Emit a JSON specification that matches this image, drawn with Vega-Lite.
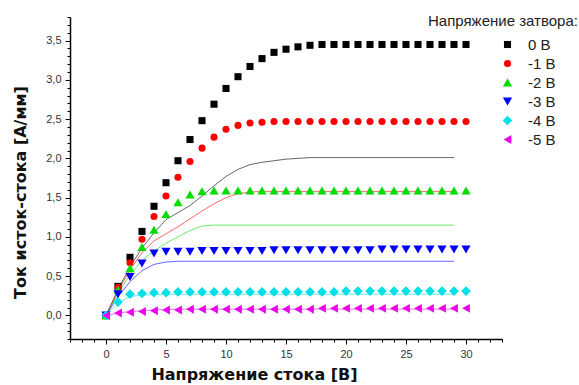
{
  "$schema": "https://vega.github.io/schema/vega-lite/v6.json",
  "width": 432,
  "height": 322,
  "autosize": {"type": "none"},
  "padding": {"left": 70, "top": 17, "right": 77, "bottom": 46},
  "background": "white",
  "config": {
    "view": {"stroke": null},
    "font": "Liberation Sans",
    "axis": {"grid": false, "domainColor": "#000", "domainWidth": 1.5, "tickColor": "#000", "labelColor": "#333", "labelFont": "Liberation Sans", "titleFont": "DejaVu Sans", "titleColor": "#111"},
    "legend": {"orient": "none", "legendX": 358, "legendY": -3, "padding": 0, "titleFontSize": 15, "titleFontWeight": "normal", "titleColor": "#222", "titlePadding": 8, "labelFontSize": 15, "labelColor": "#222", "symbolOffset": 72, "labelOffset": 13, "rowPadding": 3, "symbolStrokeWidth": 0}
  },
  "datasets": {
    "meas": [
      {"g":"0 В","x":0,"y":0},{"g":"0 В","x":1,"y":0.37},{"g":"0 В","x":2,"y":0.74},{"g":"0 В","x":3,"y":1.07},{"g":"0 В","x":4,"y":1.39},{"g":"0 В","x":5,"y":1.69},{"g":"0 В","x":6,"y":1.97},{"g":"0 В","x":7,"y":2.24},{"g":"0 В","x":8,"y":2.48},{"g":"0 В","x":9,"y":2.69},{"g":"0 В","x":10,"y":2.89},{"g":"0 В","x":11,"y":3.04},{"g":"0 В","x":12,"y":3.17},{"g":"0 В","x":13,"y":3.27},{"g":"0 В","x":14,"y":3.35},{"g":"0 В","x":15,"y":3.39},{"g":"0 В","x":16,"y":3.42},{"g":"0 В","x":17,"y":3.44},{"g":"0 В","x":18,"y":3.45},{"g":"0 В","x":19,"y":3.45},{"g":"0 В","x":20,"y":3.45},{"g":"0 В","x":21,"y":3.45},{"g":"0 В","x":22,"y":3.45},{"g":"0 В","x":23,"y":3.45},{"g":"0 В","x":24,"y":3.45},{"g":"0 В","x":25,"y":3.45},{"g":"0 В","x":26,"y":3.45},{"g":"0 В","x":27,"y":3.45},{"g":"0 В","x":28,"y":3.45},{"g":"0 В","x":29,"y":3.45},{"g":"0 В","x":30,"y":3.45},
      {"g":"-1 В","x":0,"y":0},{"g":"-1 В","x":1,"y":0.36},{"g":"-1 В","x":2,"y":0.67},{"g":"-1 В","x":3,"y":0.97},{"g":"-1 В","x":4,"y":1.26},{"g":"-1 В","x":5,"y":1.52},{"g":"-1 В","x":6,"y":1.76},{"g":"-1 В","x":7,"y":1.96},{"g":"-1 В","x":8,"y":2.13},{"g":"-1 В","x":9,"y":2.27},{"g":"-1 В","x":10,"y":2.37},{"g":"-1 В","x":11,"y":2.42},{"g":"-1 В","x":12,"y":2.45},{"g":"-1 В","x":13,"y":2.46},{"g":"-1 В","x":14,"y":2.47},{"g":"-1 В","x":15,"y":2.47},{"g":"-1 В","x":16,"y":2.47},{"g":"-1 В","x":17,"y":2.47},{"g":"-1 В","x":18,"y":2.47},{"g":"-1 В","x":19,"y":2.47},{"g":"-1 В","x":20,"y":2.47},{"g":"-1 В","x":21,"y":2.47},{"g":"-1 В","x":22,"y":2.47},{"g":"-1 В","x":23,"y":2.47},{"g":"-1 В","x":24,"y":2.47},{"g":"-1 В","x":25,"y":2.47},{"g":"-1 В","x":26,"y":2.47},{"g":"-1 В","x":27,"y":2.47},{"g":"-1 В","x":28,"y":2.47},{"g":"-1 В","x":29,"y":2.47},{"g":"-1 В","x":30,"y":2.47},
      {"g":"-2 В","x":0,"y":0},{"g":"-2 В","x":1,"y":0.33},{"g":"-2 В","x":2,"y":0.60},{"g":"-2 В","x":3,"y":0.87},{"g":"-2 В","x":4,"y":1.09},{"g":"-2 В","x":5,"y":1.29},{"g":"-2 В","x":6,"y":1.44},{"g":"-2 В","x":7,"y":1.54},{"g":"-2 В","x":8,"y":1.58},{"g":"-2 В","x":9,"y":1.59},{"g":"-2 В","x":10,"y":1.59},{"g":"-2 В","x":11,"y":1.59},{"g":"-2 В","x":12,"y":1.59},{"g":"-2 В","x":13,"y":1.59},{"g":"-2 В","x":14,"y":1.59},{"g":"-2 В","x":15,"y":1.59},{"g":"-2 В","x":16,"y":1.59},{"g":"-2 В","x":17,"y":1.59},{"g":"-2 В","x":18,"y":1.59},{"g":"-2 В","x":19,"y":1.59},{"g":"-2 В","x":20,"y":1.59},{"g":"-2 В","x":21,"y":1.59},{"g":"-2 В","x":22,"y":1.59},{"g":"-2 В","x":23,"y":1.59},{"g":"-2 В","x":24,"y":1.59},{"g":"-2 В","x":25,"y":1.59},{"g":"-2 В","x":26,"y":1.59},{"g":"-2 В","x":27,"y":1.59},{"g":"-2 В","x":28,"y":1.59},{"g":"-2 В","x":29,"y":1.59},{"g":"-2 В","x":30,"y":1.59},
      {"g":"-3 В","x":0,"y":0},{"g":"-3 В","x":1,"y":0.27},{"g":"-3 В","x":2,"y":0.49},{"g":"-3 В","x":3,"y":0.66},{"g":"-3 В","x":4,"y":0.79},{"g":"-3 В","x":5,"y":0.81},{"g":"-3 В","x":6,"y":0.81},{"g":"-3 В","x":7,"y":0.81},{"g":"-3 В","x":8,"y":0.82},{"g":"-3 В","x":9,"y":0.82},{"g":"-3 В","x":10,"y":0.82},{"g":"-3 В","x":11,"y":0.82},{"g":"-3 В","x":12,"y":0.82},{"g":"-3 В","x":13,"y":0.82},{"g":"-3 В","x":14,"y":0.83},{"g":"-3 В","x":15,"y":0.83},{"g":"-3 В","x":16,"y":0.83},{"g":"-3 В","x":17,"y":0.83},{"g":"-3 В","x":18,"y":0.83},{"g":"-3 В","x":19,"y":0.83},{"g":"-3 В","x":20,"y":0.83},{"g":"-3 В","x":21,"y":0.83},{"g":"-3 В","x":22,"y":0.83},{"g":"-3 В","x":23,"y":0.84},{"g":"-3 В","x":24,"y":0.84},{"g":"-3 В","x":25,"y":0.84},{"g":"-3 В","x":26,"y":0.84},{"g":"-3 В","x":27,"y":0.84},{"g":"-3 В","x":28,"y":0.84},{"g":"-3 В","x":29,"y":0.84},{"g":"-3 В","x":30,"y":0.84},
      {"g":"-4 В","x":0,"y":0},{"g":"-4 В","x":1,"y":0.17},{"g":"-4 В","x":2,"y":0.27},{"g":"-4 В","x":3,"y":0.28},{"g":"-4 В","x":4,"y":0.29},{"g":"-4 В","x":5,"y":0.29},{"g":"-4 В","x":6,"y":0.30},{"g":"-4 В","x":7,"y":0.30},{"g":"-4 В","x":8,"y":0.30},{"g":"-4 В","x":9,"y":0.30},{"g":"-4 В","x":10,"y":0.30},{"g":"-4 В","x":11,"y":0.30},{"g":"-4 В","x":12,"y":0.30},{"g":"-4 В","x":13,"y":0.30},{"g":"-4 В","x":14,"y":0.30},{"g":"-4 В","x":15,"y":0.30},{"g":"-4 В","x":16,"y":0.30},{"g":"-4 В","x":17,"y":0.30},{"g":"-4 В","x":18,"y":0.30},{"g":"-4 В","x":19,"y":0.30},{"g":"-4 В","x":20,"y":0.31},{"g":"-4 В","x":21,"y":0.31},{"g":"-4 В","x":22,"y":0.31},{"g":"-4 В","x":23,"y":0.31},{"g":"-4 В","x":24,"y":0.31},{"g":"-4 В","x":25,"y":0.31},{"g":"-4 В","x":26,"y":0.31},{"g":"-4 В","x":27,"y":0.31},{"g":"-4 В","x":28,"y":0.31},{"g":"-4 В","x":29,"y":0.31},{"g":"-4 В","x":30,"y":0.31},
      {"g":"-5 В","x":0,"y":0},{"g":"-5 В","x":1,"y":0.03},{"g":"-5 В","x":2,"y":0.04},{"g":"-5 В","x":3,"y":0.05},{"g":"-5 В","x":4,"y":0.06},{"g":"-5 В","x":5,"y":0.07},{"g":"-5 В","x":6,"y":0.07},{"g":"-5 В","x":7,"y":0.08},{"g":"-5 В","x":8,"y":0.08},{"g":"-5 В","x":9,"y":0.08},{"g":"-5 В","x":10,"y":0.08},{"g":"-5 В","x":11,"y":0.08},{"g":"-5 В","x":12,"y":0.08},{"g":"-5 В","x":13,"y":0.08},{"g":"-5 В","x":14,"y":0.08},{"g":"-5 В","x":15,"y":0.08},{"g":"-5 В","x":16,"y":0.08},{"g":"-5 В","x":17,"y":0.08},{"g":"-5 В","x":18,"y":0.09},{"g":"-5 В","x":19,"y":0.09},{"g":"-5 В","x":20,"y":0.09},{"g":"-5 В","x":21,"y":0.09},{"g":"-5 В","x":22,"y":0.09},{"g":"-5 В","x":23,"y":0.09},{"g":"-5 В","x":24,"y":0.09},{"g":"-5 В","x":25,"y":0.09},{"g":"-5 В","x":26,"y":0.09},{"g":"-5 В","x":27,"y":0.09},{"g":"-5 В","x":28,"y":0.09},{"g":"-5 В","x":29,"y":0.09},{"g":"-5 В","x":30,"y":0.09}
    ],
    "sim": [
      {"g":"0 В","x":0,"y":0},{"g":"0 В","x":1,"y":0.33},{"g":"0 В","x":2,"y":0.62},{"g":"0 В","x":3,"y":0.86},{"g":"0 В","x":4,"y":1.05},{"g":"0 В","x":5,"y":1.22},{"g":"0 В","x":6,"y":1.31},{"g":"0 В","x":7,"y":1.40},{"g":"0 В","x":8,"y":1.52},{"g":"0 В","x":9,"y":1.65},{"g":"0 В","x":10,"y":1.77},{"g":"0 В","x":11,"y":1.86},{"g":"0 В","x":12,"y":1.92},{"g":"0 В","x":13,"y":1.95},{"g":"0 В","x":14,"y":1.97},{"g":"0 В","x":15,"y":1.99},{"g":"0 В","x":16,"y":2.0},{"g":"0 В","x":17,"y":2.01},{"g":"0 В","x":29,"y":2.01},
      {"g":"-1 В","x":0,"y":0},{"g":"-1 В","x":1,"y":0.31},{"g":"-1 В","x":2,"y":0.58},{"g":"-1 В","x":3,"y":0.80},{"g":"-1 В","x":4,"y":0.95},{"g":"-1 В","x":5,"y":1.04},{"g":"-1 В","x":6,"y":1.13},{"g":"-1 В","x":7,"y":1.23},{"g":"-1 В","x":8,"y":1.33},{"g":"-1 В","x":9,"y":1.42},{"g":"-1 В","x":10,"y":1.50},{"g":"-1 В","x":11,"y":1.55},{"g":"-1 В","x":12,"y":1.57},{"g":"-1 В","x":13,"y":1.58},{"g":"-1 В","x":29,"y":1.58},
      {"g":"-2 В","x":0,"y":0},{"g":"-2 В","x":1,"y":0.28},{"g":"-2 В","x":2,"y":0.52},{"g":"-2 В","x":3,"y":0.70},{"g":"-2 В","x":4,"y":0.82},{"g":"-2 В","x":5,"y":0.92},{"g":"-2 В","x":6,"y":1.00},{"g":"-2 В","x":7,"y":1.08},{"g":"-2 В","x":8,"y":1.14},{"g":"-2 В","x":9,"y":1.15},{"g":"-2 В","x":29,"y":1.15},
      {"g":"-3 В","x":0,"y":0},{"g":"-3 В","x":1,"y":0.24},{"g":"-3 В","x":2,"y":0.43},{"g":"-3 В","x":3,"y":0.57},{"g":"-3 В","x":4,"y":0.65},{"g":"-3 В","x":5,"y":0.68},{"g":"-3 В","x":6,"y":0.69},{"g":"-3 В","x":29,"y":0.69},
      {"g":"-4 В","x":0,"y":0},{"g":"-4 В","x":1,"y":0.16},{"g":"-4 В","x":2,"y":0.24},{"g":"-4 В","x":3,"y":0.26},{"g":"-4 В","x":5,"y":0.27},{"g":"-4 В","x":29,"y":0.27},
      {"g":"-5 В","x":0,"y":0},{"g":"-5 В","x":1,"y":0.03},{"g":"-5 В","x":2,"y":0.05},{"g":"-5 В","x":3,"y":0.06},{"g":"-5 В","x":4,"y":0.07},{"g":"-5 В","x":6,"y":0.08},{"g":"-5 В","x":29,"y":0.08}
    ]
  },
  "resolve": {"axis": {"x": "independent", "y": "independent"}},
  "layer": [
    {
      "data": {"name": "sim"},
      "mark": {"type": "line", "strokeWidth": 1, "opacity": 0.6},
      "encoding": {
        "x": {"field": "x", "type": "quantitative", "scale": {"domain": [-3, 33], "nice": false, "zero": false},
          "axis": {"orient": "bottom", "values": [-3,-2,-1,1,2,3,4,6,7,8,9,11,12,13,14,16,17,18,19,21,22,23,24,26,27,28,29,31,32,33], "labels": false, "tickSize": 3, "domain": false, "title": null}},
        "y": {"field": "y", "type": "quantitative", "scale": {"domain": [-0.3, 3.8], "nice": false, "zero": false},
          "axis": {"orient": "left", "values": [-0.3,-0.2,-0.1,0.1,0.2,0.3,0.4,0.6,0.7,0.8,0.9,1.1,1.2,1.3,1.4,1.6,1.7,1.8,1.9,2.1,2.2,2.3,2.4,2.6,2.7,2.8,2.9,3.1,3.2,3.3,3.4,3.6,3.7,3.8], "labels": false, "tickSize": 3, "domain": false, "title": null}},
        "stroke": {"field": "g", "type": "nominal", "scale": {"range": ["#ff0000","#00dd00","#0000ff","#00e0e8","#ee00ee","#000000"]}, "legend": null},
        "detail": {"field": "g"}
      }
    },
    {
      "data": {"name": "meas"},
      "mark": {"type": "point", "filled": true, "opacity": 1},
      "encoding": {
        "x": {"field": "x", "type": "quantitative",
          "axis": {"orient": "bottom", "values": [0,5,10,15,20,25,30], "tickSize": 5, "labelFontSize": 11, "labelPadding": 4, "title": "Напряжение стока [В]", "titleFontSize": 16, "titleFontWeight": "bold", "titleX": 184, "titleY": 40, "titleBaseline": "alphabetic"}},
        "y": {"field": "y", "type": "quantitative",
          "axis": {"orient": "left", "values": [0,0.5,1,1.5,2,2.5,3,3.5], "tickSize": 5, "labelFontSize": 11, "labelPadding": 4, "labelExpr": "replace(format(datum.value, '.1f'), '.', ',')", "title": "Ток исток-стока [А/мм]", "titleFontSize": 16, "titleFontWeight": "bold", "titleX": -45, "titleY": 175, "titleBaseline": "alphabetic", "titleAngle": -90}},
        "color": {"field": "g", "type": "nominal", "scale": {"domain": ["0 В","-1 В","-2 В","-3 В","-4 В","-5 В"], "range": ["#000000","#ff0000","#00dd00","#0000ff","#00e0e8","#ee00ee"]},
          "legend": {"title": "Напряжение затвора:"}},
        "shape": {"field": "g", "type": "nominal", "scale": {"domain": ["0 В","-1 В","-2 В","-3 В","-4 В","-5 В"], "range": ["square","circle","triangle-up","triangle-down","diamond","triangle-left"]},
          "legend": {"title": "Напряжение затвора:"}},
        "size": {"field": "g", "type": "nominal", "scale": {"type": "ordinal", "domain": ["0 В","-1 В","-2 В","-3 В","-4 В","-5 В"], "range": [50, 50, 85, 85, 95, 80]},
          "legend": {"title": "Напряжение затвора:"}}
      }
    }
  ]
}
